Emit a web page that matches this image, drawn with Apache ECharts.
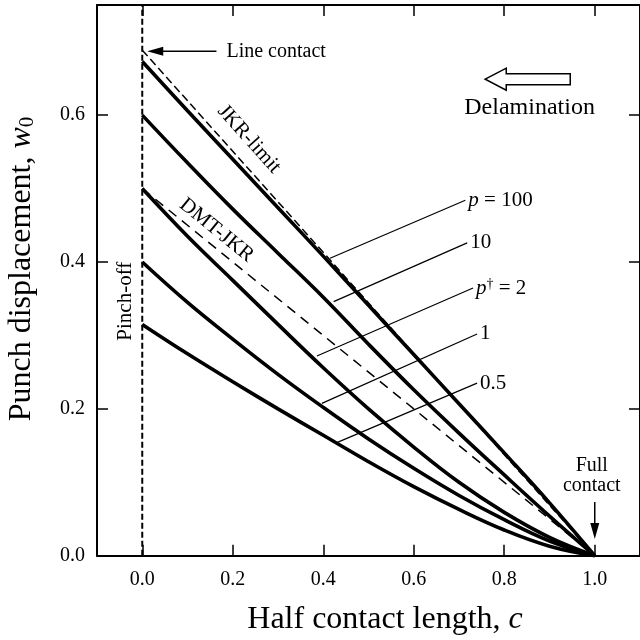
<!DOCTYPE html>
<html>
<head>
<meta charset="utf-8">
<script src="https://cdn.jsdelivr.net/npm/echarts@6/dist/echarts.min.js"></script>
<style>
  html, body { margin: 0; padding: 0; background: #fff; }
  #main { width: 640px; height: 640px; }
</style>
</head>
<body>
<div id="main"></div>
<script>
// half contact length c
const cVals = [0, 0.1, 0.2, 0.3, 0.4, 0.5, 0.6, 0.7, 0.8, 0.9, 1.0];
// punch displacement w0 for each p
const wP100 = [0.673, 0.606, 0.540, 0.474, 0.408, 0.341, 0.274, 0.207, 0.140, 0.072, 0];
const wP10  = [0.600, 0.535, 0.472, 0.412, 0.352, 0.288, 0.226, 0.167, 0.110, 0.054, 0];
const wP2   = [0.500, 0.435, 0.375, 0.315, 0.256, 0.200, 0.148, 0.100, 0.059, 0.025, 0];
const wP1   = [0.400, 0.345, 0.295, 0.247, 0.202, 0.159, 0.119, 0.082, 0.049, 0.020, 0];
const wP05  = [0.315, 0.275, 0.237, 0.200, 0.164, 0.128, 0.094, 0.063, 0.035, 0.013, 0];
// limiting cases (straight dashed lines)
const jkrLimit = [[0, 0.6885], [1, 0]];
const dmtJkr = [[0, 0.5], [1, 0]];
const pinchOff = [[0, 0], [0, 0.75]];
// leader lines to the p labels
const leadStart = [[0.415, 0.405], [0.423, 0.346], [0.386, 0.272], [0.397, 0.2075], [0.430, 0.154]];
const leadEnd   = [[0.714, 0.484], [0.718, 0.426], [0.731, 0.3645], [0.740, 0.302], [0.740, 0.235]];
const leadText  = ['{i|p} = 100', '10', '{i|p}{sup|\u2020} = 2', '1', '0.5'];
// tick labels
const xTicks = [0, 0.2, 0.4, 0.6, 0.8, 1.0];
const yTicks = [0, 0.2, 0.4, 0.6];

const serif = 'Liberation Serif';
const pair = (ys) => cVals.map((c, i) => [c, ys[i]]);

const chart = echarts.init(document.getElementById('main'));

const tickStyle = (vals) => ({
  show: true, inside: true, length: 11, customValues: vals,
  lineStyle: { color: '#000', width: 1.5 }
});
const lineAx = { show: true, onZero: false, lineStyle: { color: '#000', width: 2 } };

const curve = (ys) => ({
  type: 'line', data: pair(ys), xAxisIndex: 0, yAxisIndex: 0,
  symbol: 'none', smooth: 0.4,
  lineStyle: { color: '#000', width: 3.6 }, z: 3, silent: true
});
const dashed = (pts, dash, w) => ({
  type: 'line', data: pts, symbol: 'none',
  lineStyle: { color: '#000', width: w, type: dash }, z: 2, silent: true
});

const series = [
  curve(wP100), curve(wP10), curve(wP2), curve(wP1), curve(wP05),
  dashed(jkrLimit, [8, 4], 1.5),
  dashed(dmtJkr, [10, 7], 1.5),
  dashed(pinchOff, [6, 3], 2)
];

leadText.forEach((t, i) => {
  series.push({
    type: 'line', data: [leadStart[i], leadEnd[i]], symbol: 'none',
    lineStyle: { color: '#000', width: 1.2 }, z: 4, silent: true,
    endLabel: {
      show: true, formatter: t, distance: 3,
      color: '#000', fontFamily: serif, fontSize: 21,
      rich: {
        i: { fontFamily: serif, fontSize: 21, fontStyle: 'italic', color: '#000' },
        sup: { fontFamily: serif, fontSize: 14, color: '#000', verticalAlign: 'top', padding: [0, 0, 8, 0] }
      }
    }
  });
});

chart.setOption({
  animation: false,
  backgroundColor: '#fff',
  grid: { left: 97, top: 5, width: 549.6, height: 550.7, containLabel: false },
  xAxis: [{
    type: 'value', min: -0.1, max: 1.1, position: 'bottom',
    axisLine: lineAx, axisTick: tickStyle(xTicks),
    axisLabel: {
      customValues: xTicks, formatter: (v) => v.toFixed(1), margin: 14,
      color: '#000', fontFamily: serif, fontSize: 20
    },
    splitLine: { show: false }
  }, {
    type: 'value', min: -0.1, max: 1.1, position: 'top',
    axisLine: lineAx, axisTick: tickStyle(xTicks),
    axisLabel: { show: false }, splitLine: { show: false }
  }],
  yAxis: [{
    type: 'value', min: 0, max: 0.75, position: 'left',
    axisLine: lineAx, axisTick: tickStyle(yTicks),
    axisLabel: {
      customValues: yTicks, formatter: (v) => v.toFixed(1), margin: 12,
      color: '#000', fontFamily: serif, fontSize: 20
    },
    splitLine: { show: false }
  }, {
    type: 'value', min: 0, max: 0.75, position: 'right',
    axisLine: lineAx, axisTick: tickStyle(yTicks),
    axisLabel: { show: false }, splitLine: { show: false }
  }],
  series: series
});

// annotations, anchored in data coordinates
const px = (p) => chart.convertToPixel({ xAxisIndex: 0, yAxisIndex: 0 }, p);
const angleOf = (seg) => {
  const a = px(seg[0]), b = px(seg[1]);
  return -Math.atan2(b[1] - a[1], b[0] - a[0]);
};
const txt = (text, p, size, align, rot) => ({
  type: 'text', x: p[0], y: p[1], rotation: rot || 0, silent: true,
  style: { text: text, fill: '#000', fontFamily: serif, fontSize: size, align: align, verticalAlign: 'middle' }
});

const lcTail = px([0.164, 0.687]), lcTip = px([0.011, 0.687]);
const fcTail = px([1.0, 0.0731]), fcTip = px([1.0, 0.0227]);
const delTip = px([0.758, 0.649]);

const graphic = [
  // axis titles
  {
    type: 'text', x: 385, y: 620, silent: true,
    style: {
      text: 'Half contact length, {i|c}', fill: '#000', fontFamily: serif, fontSize: 32,
      align: 'center', verticalAlign: 'middle',
      rich: { i: { fontFamily: serif, fontSize: 32, fontStyle: 'italic', fill: '#000' } }
    }
  },
  {
    type: 'text', x: 22, y: 269, rotation: Math.PI / 2, silent: true,
    style: {
      text: 'Punch displacement, {i|w}{sub|0}', fill: '#000', fontFamily: serif, fontSize: 32,
      align: 'center', verticalAlign: 'middle',
      rich: {
        i: { fontFamily: serif, fontSize: 32, fontStyle: 'italic', fill: '#000' },
        sub: { fontFamily: serif, fontSize: 21, fill: '#000', verticalAlign: 'bottom', padding: [10, 0, 0, 0] }
      }
    }
  },
  // line contact arrow
  {
    type: 'line', silent: true,
    shape: { x1: lcTail[0], y1: lcTail[1], x2: lcTip[0] + 12, y2: lcTip[1] },
    style: { stroke: '#000', lineWidth: 1.5 }
  },
  {
    type: 'polygon', silent: true,
    shape: { points: [[lcTip[0], lcTip[1]], [lcTip[0] + 16, lcTip[1] - 4.5], [lcTip[0] + 16, lcTip[1] + 4.5]] },
    style: { fill: '#000' }
  },
  txt('Line contact', px([0.186, 0.687]), 20, 'left'),
  // full contact arrow
  {
    type: 'line', silent: true,
    shape: { x1: fcTail[0], y1: fcTail[1], x2: fcTip[0], y2: fcTip[1] - 12 },
    style: { stroke: '#000', lineWidth: 1.5 }
  },
  {
    type: 'polygon', silent: true,
    shape: { points: [[fcTip[0], fcTip[1]], [fcTip[0] - 4.5, fcTip[1] - 16], [fcTip[0] + 4.5, fcTip[1] - 16]] },
    style: { fill: '#000' }
  },
  txt('Full\ncontact', px([0.9935, 0.109]), 20, 'center'),
  // delamination hollow arrow
  {
    type: 'polygon', silent: true,
    shape: {
      points: [
        [delTip[0], delTip[1]], [delTip[0] + 21, delTip[1] - 11], [delTip[0] + 21, delTip[1] - 5.5],
        [delTip[0] + 85, delTip[1] - 5.5], [delTip[0] + 85, delTip[1] + 5.5],
        [delTip[0] + 21, delTip[1] + 5.5], [delTip[0] + 21, delTip[1] + 11]
      ]
    },
    style: { fill: '#fff', stroke: '#000', lineWidth: 1.5 }
  },
  txt('Delamination', px([0.856, 0.6095]), 24, 'center'),
  // rotated labels
  txt('Pinch-off', px([-0.037, 0.3466]), 21, 'center', Math.PI / 2),
  txt('JKR-limit', px([0.236, 0.5673]), 21, 'center', angleOf(jkrLimit)),
  txt('DMT-JKR', px([0.164, 0.4433]), 21, 'center', angleOf(dmtJkr))
];

chart.setOption({ graphic: graphic });
</script>
</body>
</html>
